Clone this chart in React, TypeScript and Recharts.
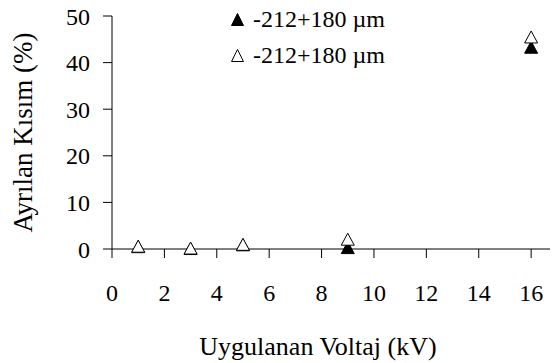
import { ScatterChart, Scatter, XAxis, YAxis, Legend, Label } from 'recharts';

const voltage = [1, 3, 5, 9, 16];
const filledValues = [0.5, 0.1, 0.9, 0.3, 43.3];
const openValues = [0.6, 0.2, 1.0, 2.1, 45.5];
const seriesNames = ['-212+180 µm', '-212+180 µm'];
const xTicks = [0, 2, 4, 6, 8, 10, 12, 14, 16];
const yTicks = [0, 10, 20, 30, 40, 50];

const filledData = voltage.map((v, i) => ({ x: v, y: filledValues[i] }));
const openData = voltage.map((v, i) => ({ x: v, y: openValues[i] }));

const FONT = '"Liberation Serif", "Times New Roman", serif';

// excel-style triangle marker
function triangle(filled: boolean) {
  return (props: any) => {
    const { cx, cy } = props;
    const w = 6.5;
    const h = 6;
    return (
      <polygon
        points={`${cx - w},${cy + h} ${cx + w},${cy + h} ${cx},${cy - h}`}
        fill={filled ? '#000' : '#fff'}
        stroke="#000"
        strokeWidth={1}
      />
    );
  };
}

function LegendBox() {
  return (
    <div style={{ fontFamily: FONT, fontSize: 24, lineHeight: '36px', color: '#000' }}>
      {seriesNames.map((name, i) => (
        <div key={i} style={{ display: 'flex', alignItems: 'center', height: 36 }}>
          <svg width={13} height={13} style={{ marginRight: 9 }}>
            <polygon
              points="0.5,12.5 12.5,12.5 6.5,0.5"
              fill={i === 0 ? '#000' : '#fff'}
              stroke="#000"
              strokeWidth={1}
            />
          </svg>
          <span>{name}</span>
        </div>
      ))}
    </div>
  );
}

export default function App() {
  return (
    <div style={{ fontFamily: FONT }}>
      <style>{'body{margin:0;}'}</style>
      <ScatterChart
        width={556}
        height={363}
        margin={{ top: 16, right: 6, left: 0, bottom: 0 }}
        style={{ fontFamily: FONT }}
      >
        <XAxis
          type="number"
          dataKey="x"
          domain={[0, 16.72]}
          ticks={xTicks}
          allowDataOverflow
          height={114}
          stroke="#000"
          tickSize={9}
          tick={{ fill: '#000', fontSize: 24, fontFamily: FONT, dy: 24 }}
        >
          <Label
            value="Uygulanan Voltaj (kV)"
            position="insideBottom"
            offset={8}
            dx={-13}
            style={{ fill: '#000', fontSize: 26, fontFamily: FONT }}
          />
        </XAxis>
        <YAxis
          type="number"
          dataKey="y"
          domain={[0, 50]}
          ticks={yTicks}
          width={112}
          stroke="#000"
          tickSize={9}
          tick={{ fill: '#000', fontSize: 24, fontFamily: FONT, dx: -11 }}
        >
          <Label
            value="Ayrılan Kısım (%)"
            angle={-90}
            position="insideLeft"
            offset={22}
            style={{ fill: '#000', fontSize: 27, fontFamily: FONT, textAnchor: 'middle' }}
          />
        </YAxis>
        <Legend
          layout="horizontal"
          verticalAlign="middle"
          align="center"
          content={() => <LegendBox />}
          wrapperStyle={{ left: 231, top: 1, width: 220 }}
        />
        <Scatter
          name={seriesNames[0]}
          data={filledData}
          shape={triangle(true)}
          isAnimationActive={false}
        />
        <Scatter
          name={seriesNames[1]}
          data={openData}
          shape={triangle(false)}
          isAnimationActive={false}
        />
      </ScatterChart>
    </div>
  );
}
